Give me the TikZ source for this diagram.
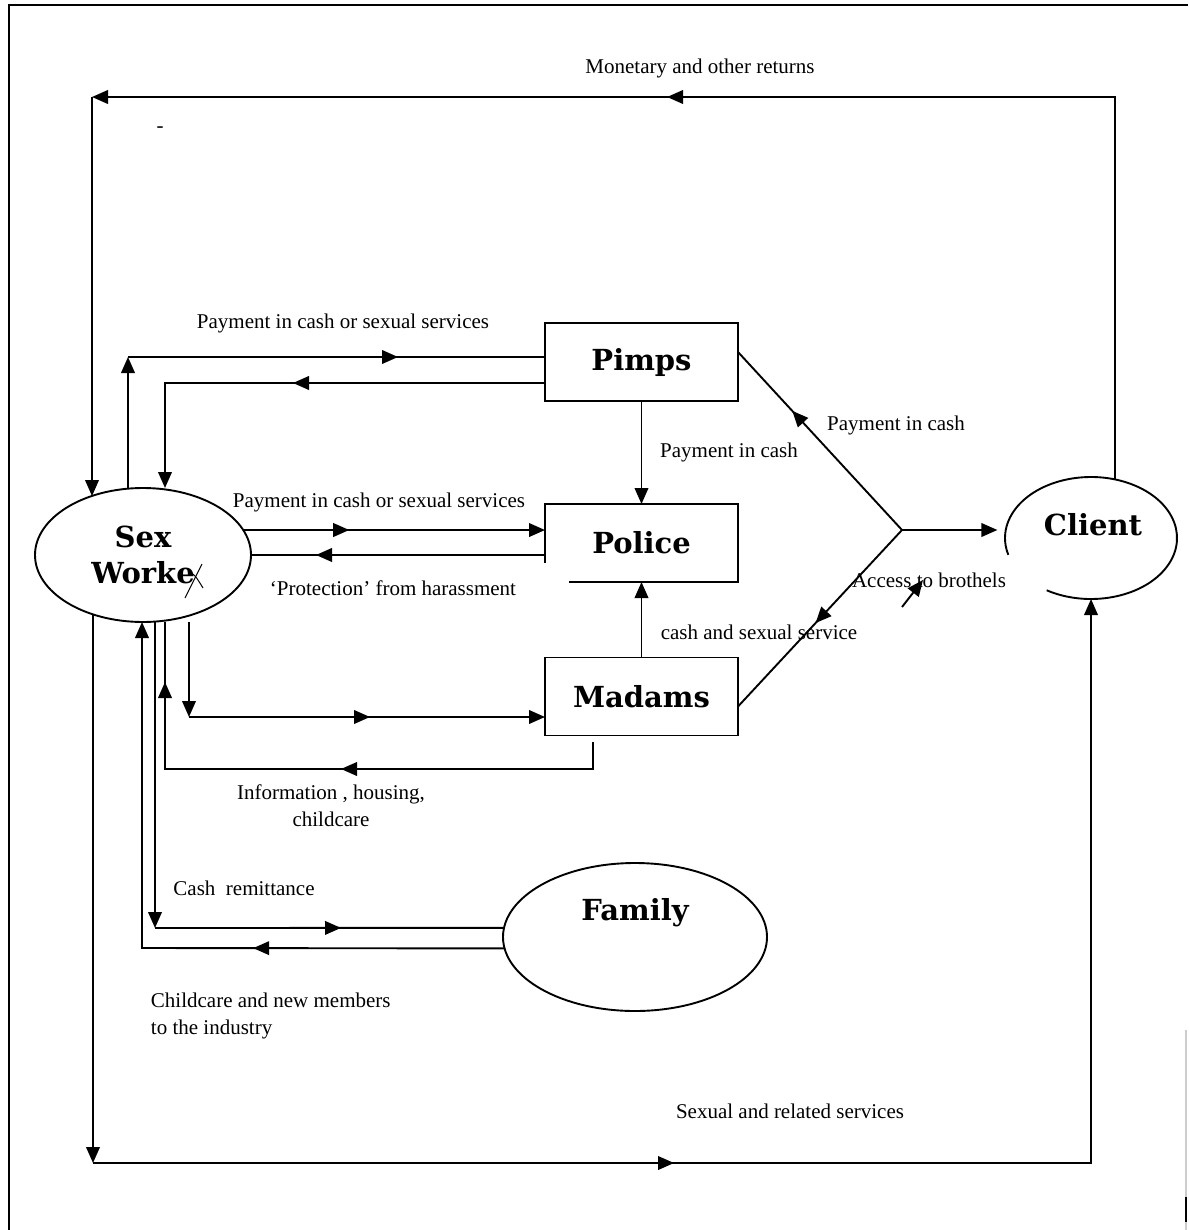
\documentclass[tikz,border=0pt]{standalone}
\usepackage{fontspec}
\setmainfont{Liberation Serif}
\newfontfamily\boxfont{DejaVu Serif}
\usepackage{tikz}
\usetikzlibrary{arrows.meta,shapes.geometric,positioning,calc,decorations.markings}

\tikzset{
  actor/.style={draw, minimum width=96.5pt, minimum height=39pt, inner sep=0pt, outer sep=0pt,
    font=\boxfont\bfseries\fontsize{14.5}{18}\selectfont},
  party/.style={ellipse, inner sep=0pt, outer sep=0pt, align=center,
    font=\boxfont\bfseries\fontsize{14.5}{18}\selectfont},
  bigtext/.style={inner sep=0pt, font=\boxfont\bfseries\fontsize{14.5}{18}\selectfont},
  flow/.style={inner sep=0pt, font=\fontsize{10.5}{13.5}\selectfont},
  midtip/.style={postaction={decorate},
    decoration={markings, mark=at position #1 with {\arrow{>}}}},
  midtips/.style 2 args={postaction={decorate},
    decoration={markings, mark=at position #1 with {\arrow{>}},
      mark=at position #2 with {\arrow{>}}}},
}

\begin{document}
\begin{tikzpicture}[x=0.5pt, y=-0.5pt, line width=0.95pt,
    >={Triangle[length=8pt,width=6.8pt]}]
    \useasboundingbox (0,0) rectangle (1188,1230);

    % page frame
    \draw (9,1230) -- (9,5) -- (1188,5);
    \draw[gray!40] (1186,1030) -- (1186,1230);
    \draw (1186,1197) -- (1186,1222);

    % actors
    \node[party, draw, minimum width=108pt, minimum height=67pt] (sw) at (143,555) {Sex\\Worke};
    \node[actor] (pimps) at (641.5,362) {Pimps};
    \node[actor, draw=none] (police) at (641.5,543) {Police};
    \node[actor] (madams) at (641.5,696.5) {Madams};
    \node[party, draw, minimum width=132pt, minimum height=74pt] (family) at (635,937) {};
    \node[bigtext] (familylbl) at (635,913) {Family};
    \node[party, minimum width=86pt, minimum height=61pt] (client) at (1091,538) {};
    \node[bigtext] (clientlbl) at (1093,525) {Client};

    % crossed-out letter
    \draw[line width=0.5pt] (185,598) -- (202,564);
    \draw[line width=0.5pt] (188,571) .. controls (195,575) .. (203,588);

    % open outlines
    \draw ([shift={(0,-19)}]police.south west) |- (police.north east)
        |- ([shift={(24,0)}]police.south west);
    \draw ([shift={(239:43pt and 30.5pt)}]client.center)
        arc[start angle=239, end angle=556, x radius=43pt, y radius=30.5pt];

    % client <-> sex worker
    \coordinate (cTL) at (92,97);
    \draw[->, midtip=415pt] (client.68) |- (cTL);
    \draw[->] (cTL) -- (cTL |- sw.131);
    \coordinate (cBL) at (93,1163);
    \draw[->] (cBL |- sw.231) -- (cBL);
    \draw[->, midtip=290.5pt] (cBL) -| (client.south);

    % pimps
    \coordinate (pin) at (128,357);
    \coordinate (pout) at (165,383);
    \draw[->] (pin |- sw.north) -- (pin);
    \draw[midtip=135pt] (pin) -- (pimps.west |- pin);
    \draw[->, midtip=126pt] (pimps.west |- pout) -- (pout) -- (pout |- sw.north);

    % police
    \draw[->, midtip=53pt] (sw.14) -- (police.west |- sw.14);
    \draw[midtip=114.5pt] (police.west |- sw.east) -- (sw.east);
    \draw[->] (pimps) -- (police);
    \draw[->] (madams) -- (police);

    % madams
    \coordinate (min) at (189,717);
    \draw[->] (min |- sw.south) -- (min);
    \draw[->, midtip=90.5pt] (min) -- (madams.west |- min);
    \coordinate (iout) at (593,742);
    \coordinate (icorner) at (165,769);
    \draw[midtips={139.5pt}{271pt}] (iout) |- (icorner) -- (icorner |- sw.south);

    % family
    \coordinate (fcash) at (155,928);
    \draw[->] (fcash |- sw.south) -- (fcash);
    \draw[midtip=93pt] (fcash) -- (family.176);
    \coordinate (fcare) at (142,948);
    \draw[->, midtip=125.7pt] (family.185) -- (fcare) -- (fcare |- sw.south);

    % brothel hub
    \coordinate (hub) at (902,530);
    \draw[midtip=81pt] (hub) -- ([yshift=5pt]pimps.east);
    \draw[midtip=63.5pt] (hub) -- ([yshift=-5pt]madams.east);
    \draw[->, shorten >=3.8pt] (hub) -- (client.west |- hub);
    \coordinate (acc1) at (902,607);
    \coordinate (acc2) at (923,580);
    \draw[->] (acc1) -- (acc2);

    % labels
    \node[flow] (lmoney) at (700,68) {Monetary and other returns};
    \node[flow] (ldash) at (160,130) {-};
    \node[flow] (lpayp) at (343,323) {Payment in cash or sexual services};
    \node[flow] (lpayq) at (379,502) {Payment in cash or sexual services};
    \node[flow] (lprot) at (393,588) {‘Protection’ from harassment};
    \node[flow] (lpp) at (729,452) {Payment in cash};
    \node[flow] (lpc) at (896,425) {Payment in cash};
    \node[flow] (lms) at (759,632) {cash and sexual service};
    \node[flow] (lacc) at (929,580) {Access to brothels};
    \node[flow, align=center] (linfo) at (331,806) {Information , housing,\\childcare};
    \node[flow] (lcash) at (244,888) {Cash\ \ remittance};
    \node[flow, align=left, anchor=west] (lcare) at (150,1016) {Childcare and new members\\to the industry};
    \node[flow] (lsex) at (790,1111) {Sexual and related services};
\end{tikzpicture}
\end{document}
